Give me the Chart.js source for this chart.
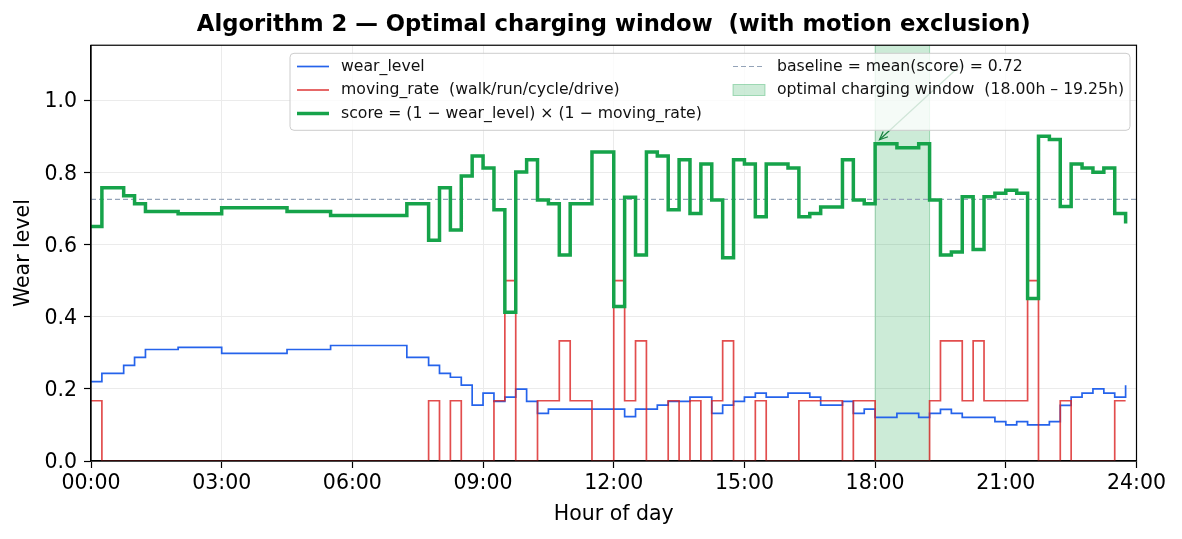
<!DOCTYPE html>
<html><head><meta charset="utf-8">
<script src="https://cdn.jsdelivr.net/npm/chart.js@4.4.1/dist/chart.umd.min.js"></script>
<style>html,body{margin:0;padding:0;background:#fff;}canvas{display:block;}</style>
</head><body>
<canvas id="c" width="1182" height="539" style="width:1182px;height:539px"></canvas>
<script>
// ---- data (15-minute slots, hours of day) ----
const hours = [0,0.25,0.5,0.75,1,1.25,1.5,1.75,2,2.25,2.5,2.75,3,3.25,3.5,3.75,4,4.25,4.5,4.75,5,5.25,5.5,5.75,
  6,6.25,6.5,6.75,7,7.25,7.5,7.75,8,8.25,8.5,8.75,9,9.25,9.5,9.75,10,10.25,10.5,10.75,11,11.25,11.5,11.75,
  12,12.25,12.5,12.75,13,13.25,13.5,13.75,14,14.25,14.5,14.75,15,15.25,15.5,15.75,16,16.25,16.5,16.75,17,17.25,17.5,17.75,
  18,18.25,18.5,18.75,19,19.25,19.5,19.75,20,20.25,20.5,20.75,21,21.25,21.5,21.75,22,22.25,22.5,22.75,23,23.25,23.5,23.75];

const wearLevel = [0.22,0.243,0.243,0.265,0.287,0.309,0.309,0.309,0.315,0.315,0.315,0.315,
  0.298,0.298,0.298,0.298,0.298,0.298,0.309,0.309,0.309,0.309,0.32,0.32,
  0.32,0.32,0.32,0.32,0.32,0.287,0.287,0.265,0.243,0.232,0.21,0.155,
  0.188,0.165,0.177,0.199,0.165,0.132,0.144,0.144,0.144,0.144,0.144,0.144,
  0.144,0.123,0.144,0.144,0.155,0.165,0.165,0.177,0.177,0.132,0.155,0.165,
  0.177,0.188,0.177,0.177,0.188,0.188,0.177,0.155,0.155,0.165,0.132,0.144,
  0.121,0.121,0.132,0.132,0.121,0.132,0.143,0.132,0.121,0.121,0.121,0.109,
  0.10,0.109,0.10,0.10,0.109,0.154,0.177,0.188,0.2,0.188,0.177,0.21];

const movingRate = [0.167,0,0,0,0,0,0,0,0,0,0,0,
  0,0,0,0,0,0,0,0,0,0,0,0,
  0,0,0,0,0,0,0,0.167,0,0.167,0,0,
  0,0.167,0.5,0,0,0.167,0.167,0.333,0.167,0.167,0,0,
  0.5,0.167,0.333,0,0,0.167,0,0.167,0,0.167,0.333,0,
  0,0.167,0,0,0,0.167,0.167,0.167,0.167,0,0.167,0.167,
  0,0,0,0,0,0.167,0.333,0.333,0.167,0.333,0.167,0.167,
  0.167,0.167,0.5,0,0,0.167,0,0,0,0,0.167,0.167];

const score = [0.65,0.757,0.757,0.735,0.713,0.691,0.691,0.691,0.685,0.685,0.685,0.685,
  0.702,0.702,0.702,0.702,0.702,0.702,0.691,0.691,0.691,0.691,0.68,0.68,
  0.68,0.68,0.68,0.68,0.68,0.713,0.713,0.612,0.757,0.64,0.79,0.845,
  0.812,0.696,0.412,0.801,0.835,0.723,0.713,0.571,0.713,0.713,0.856,0.856,
  0.428,0.731,0.571,0.856,0.845,0.696,0.835,0.686,0.823,0.723,0.563,0.835,
  0.823,0.677,0.823,0.823,0.812,0.677,0.686,0.704,0.704,0.835,0.723,0.713,
  0.879,0.879,0.868,0.868,0.879,0.723,0.571,0.579,0.732,0.586,0.732,0.742,
  0.75,0.742,0.45,0.9,0.891,0.705,0.823,0.812,0.8,0.812,0.686,0.658];

const baselineValue = 0.725;
const windowStart = 18.0;
const windowEnd = 19.25;
const arrowTip = [18.1, 0.89];
const arrowTail = [19.95, 1.095];

const xTickValues = [0,3,6,9,12,15,18,21,24];
const xTickLabels = ['00:00','03:00','06:00','09:00','12:00','15:00','18:00','21:00','24:00'];
const yTickValues = [0,0.2,0.4,0.6,0.8,1.0];
const yTickLabels = ['0.0','0.2','0.4','0.6','0.8','1.0'];

const titleText = 'Algorithm 2 \u2014 Optimal charging window  (with motion exclusion)';
const xAxisTitle = 'Hour of day';
const yAxisTitle = 'Wear level';
const wearLabel = 'wear_level';
const movingLabel = 'moving_rate  (walk/run/cycle/drive)';
const scoreLabel = 'score = (1 \u2212 wear_level) \u00d7 (1 \u2212 moving_rate)';
const baselineLabel = 'baseline = mean(score) = 0.72';
const windowLabel = 'optimal charging window  (18.00h \u2013 19.25h)';

// ---- styles ----
const FONT = 'DejaVu Sans';
const C_WEAR = '#2563eb';
const C_MOVE = 'rgba(220,38,38,0.82)';
const C_SCORE = '#16a34a';
const C_BASE = '#94a3b8';
const C_WIN_FILL = 'rgba(22,163,74,0.22)';
const C_WIN_EDGE = 'rgba(22,163,74,0.35)';

const toXY = (arr) => hours.map((h, i) => ({x: h, y: arr[i]}));

const decorPlugin = {
  id: 'decor',
  beforeDatasetsDraw(chart) {
    const {ctx, chartArea: a, scales: {x}} = chart;
    const x0 = x.getPixelForValue(windowStart), x1 = x.getPixelForValue(windowEnd);
    ctx.save();
    ctx.fillStyle = C_WIN_FILL;
    ctx.fillRect(x0, a.top, x1 - x0, a.bottom - a.top);
    ctx.strokeStyle = C_WIN_EDGE;
    ctx.lineWidth = 1;
    ctx.beginPath();
    ctx.moveTo(x0, a.top); ctx.lineTo(x0, a.bottom);
    ctx.moveTo(x1, a.top); ctx.lineTo(x1, a.bottom);
    ctx.stroke();
    ctx.restore();
  },
  afterDatasetsDraw(chart) {
    const {ctx, chartArea: a} = chart;
    ctx.save();
    ctx.strokeStyle = '#000';
    ctx.lineWidth = 1.2;
    ctx.strokeRect(a.left, a.top, a.right - a.left, a.bottom - a.top);
    ctx.restore();
  },
  afterDraw(chart) {
    const {ctx, scales: {x, y}} = chart;
    ctx.save();
    // annotation arrow
    const tx = x.getPixelForValue(arrowTip[0]), ty = y.getPixelForValue(arrowTip[1]);
    const sx = x.getPixelForValue(arrowTail[0]), sy = y.getPixelForValue(arrowTail[1]);
    ctx.strokeStyle = '#15803d';
    ctx.lineWidth = 1.2;
    ctx.beginPath(); ctx.moveTo(sx, sy); ctx.lineTo(tx, ty); ctx.stroke();
    const ang = Math.atan2(ty - sy, tx - sx);
    ctx.beginPath();
    ctx.moveTo(tx - 9 * Math.cos(ang - 0.4), ty - 9 * Math.sin(ang - 0.4));
    ctx.lineTo(tx, ty);
    ctx.lineTo(tx - 9 * Math.cos(ang + 0.4), ty - 9 * Math.sin(ang + 0.4));
    ctx.stroke();

    // legend
    const L = 290, T = 53.3, W = 840, H = 77, r = 4;
    ctx.beginPath();
    ctx.moveTo(L + r, T); ctx.lineTo(L + W - r, T); ctx.arcTo(L + W, T, L + W, T + r, r);
    ctx.lineTo(L + W, T + H - r); ctx.arcTo(L + W, T + H, L + W - r, T + H, r);
    ctx.lineTo(L + r, T + H); ctx.arcTo(L, T + H, L, T + H - r, r);
    ctx.lineTo(L, T + r); ctx.arcTo(L, T, L + r, T, r);
    ctx.closePath();
    ctx.fillStyle = 'rgba(255,255,255,0.8)';
    ctx.fill();
    ctx.strokeStyle = '#cccccc';
    ctx.lineWidth = 1;
    ctx.stroke();

    const rows = [66.5, 90, 113.5];
    ctx.font = '15.7px "' + FONT + '"';
    ctx.textBaseline = 'middle';
    ctx.textAlign = 'left';
    const line = (x0, yy, color, w, dash) => {
      ctx.save();
      ctx.strokeStyle = color; ctx.lineWidth = w; ctx.setLineDash(dash || []);
      ctx.beginPath(); ctx.moveTo(x0, yy); ctx.lineTo(x0 + 32, yy); ctx.stroke();
      ctx.restore();
    };
    line(297, rows[0], C_WEAR, 1.7);
    line(297, rows[1], C_MOVE, 1.7);
    line(297, rows[2], C_SCORE, 3.5);
    line(733, rows[0], C_BASE, 1.2, [5, 3]);
    ctx.fillStyle = C_WIN_FILL;
    ctx.fillRect(733, rows[1] - 5.5, 32, 11);
    ctx.strokeStyle = C_WIN_EDGE; ctx.lineWidth = 1;
    ctx.strokeRect(733, rows[1] - 5.5, 32, 11);
    ctx.fillStyle = '#111';
    ctx.fillText(wearLabel, 341, rows[0]);
    ctx.fillText(movingLabel, 341, rows[1]);
    ctx.fillText(scoreLabel, 341, rows[2]);
    ctx.fillText(baselineLabel, 777, rows[0]);
    ctx.fillText(windowLabel, 777, rows[1]);
    ctx.restore();
  }
};

const tickFont = {family: FONT, size: 20.5};

new Chart(document.getElementById('c'), {
  type: 'line',
  data: {
    datasets: [
      {label: scoreLabel, data: toXY(score), borderColor: C_SCORE, borderWidth: 3.5, stepped: 'before', pointRadius: 0, order: 1, fill: false},
      {label: movingLabel, data: toXY(movingRate), borderColor: C_MOVE, borderWidth: 1.7, stepped: 'before', pointRadius: 0, order: 2, fill: false},
      {label: wearLabel, data: toXY(wearLevel), borderColor: C_WEAR, borderWidth: 1.7, stepped: 'before', pointRadius: 0, order: 3, fill: false},
      {label: baselineLabel, data: [{x: 0, y: baselineValue}, {x: 24, y: baselineValue}], borderColor: C_BASE, borderWidth: 1.2, borderDash: [5, 3], pointRadius: 0, order: 4, fill: false}
    ]
  },
  options: {
    responsive: false,
    animation: false,
    devicePixelRatio: 1,
    layout: {padding: {left: 0, right: 45.5, top: 0, bottom: 0}},
    plugins: {
      legend: {display: false},
      tooltip: {enabled: false},
      title: {display: true, text: titleText, fullSize: false, color: '#000',
        font: {family: FONT, size: 22.7, weight: 'bold'}, padding: {top: 11, bottom: 7}}
    },
    scales: {
      x: {
        type: 'linear', min: 0, max: 24,
        afterBuildTicks: (s) => { s.ticks = xTickValues.map(v => ({value: v})); },
        afterFit: (s) => { s.height = 78; },
        ticks: {callback: (v) => xTickLabels[xTickValues.indexOf(v)], font: tickFont, color: '#000', padding: 3, maxRotation: 0, autoSkip: false},
        grid: {color: '#ebebeb', lineWidth: 1, tickColor: '#000', tickLength: 7, tickWidth: 1.2},
        border: {color: '#000', width: 1.2},
        title: {display: true, text: xAxisTitle, color: '#000', font: {family: FONT, size: 20.5}, padding: {top: 0, bottom: 12.5}}
      },
      y: {
        type: 'linear', min: 0, max: 1.152,
        afterBuildTicks: (s) => { s.ticks = yTickValues.map(v => ({value: v})); },
        afterFit: (s) => { s.width = 91; },
        ticks: {callback: (v) => yTickLabels[yTickValues.indexOf(v)], font: tickFont, color: '#000', padding: 7, labelOffset: 2},
        grid: {color: '#ebebeb', lineWidth: 1, tickColor: '#000', tickLength: 7, tickWidth: 1.2},
        border: {color: '#000', width: 1.2},
        title: {display: true, text: yAxisTitle, color: '#000', font: {family: FONT, size: 20.5}, padding: {top: 11.5, bottom: 0}}
      }
    }
  },
  plugins: [decorPlugin]
});
</script>
</body></html>
